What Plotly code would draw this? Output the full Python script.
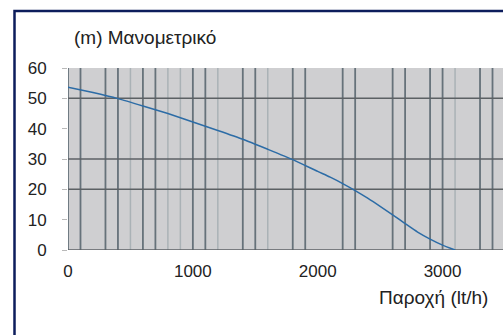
import plotly.graph_objects as go

# Data
flow = [0, 200, 400, 600, 800, 1000, 1200, 1400, 1600, 1800, 2000, 2100, 2200, 2300,
        2400, 2500, 2600, 2700, 2800, 2900, 3000, 3100]
head = [53.7, 51.9, 49.9, 47.5, 45.0, 42.2, 39.4, 36.5, 33.2, 29.8, 25.9, 24.0, 21.9, 19.6,
        17.1, 14.4, 11.6, 8.7, 5.9, 3.6, 1.6, 0.0]

x_ticks = [0, 1000, 2000, 3000]
y_ticks = [0, 10, 20, 30, 40, 50, 60]

grid_x_dark = [0, 100, 300, 400, 600, 700, 1000, 1100, 1400, 1500, 1800, 1900,
               2200, 2300, 2600, 2700, 2900, 3000, 3300, 3400]
grid_x_light = [500, 800, 900, 1200, 1600, 3100]
grid_y_dark = [0, 20, 30, 50]

y_title = "(m) Μανομετρικό"
x_title = "Παροχή (lt/h)"

W, H = 503, 335
ML, MR, MT, MB = 68, 0, 68, 85
PW, PH = W - ML - MR, H - MT - MB
X_MAX = 3484


def px_x(p):
    return (p - ML) / PW


def px_y(p):
    return (H - MB - p) / PH


FONT = "Liberation Sans, Arial, Helvetica, sans-serif"

fig = go.Figure()
fig.add_trace(go.Scatter(
    x=flow, y=head, mode="lines",
    line=dict(color="#2c6ca6", width=1.5, shape="spline", smoothing=0.5),
    hoverinfo="skip", showlegend=False,
))

for gx in grid_x_light:
    fig.add_vline(x=gx, line=dict(color="#aab2b6", width=1.5), layer="below")
for gx in grid_x_dark:
    fig.add_vline(x=gx, line=dict(color="#66727a", width=1.8), layer="below")
for gy in grid_y_dark:
    fig.add_hline(y=gy, line=dict(color="#5c6164", width=1.5), layer="below")

# navy frame
fig.add_shape(type="rect", xref="paper", yref="paper",
              x0=px_x(14.5), x1=px_x(560), y0=px_y(11), y1=px_y(400),
              line=dict(color="#0d1d5c", width=2.5), fillcolor="rgba(0,0,0,0)")

fig.add_annotation(text=y_title, xref="paper", yref="paper",
                   x=px_x(72), y=px_y(38), xanchor="left", yanchor="middle",
                   showarrow=False, font=dict(family=FONT, size=19, color="#222"))
fig.add_annotation(text=x_title, xref="paper", yref="paper",
                   x=px_x(490), y=px_y(297), xanchor="right", yanchor="middle",
                   showarrow=False, font=dict(family=FONT, size=19, color="#222"))

fig.update_layout(
    width=W, height=H,
    margin=dict(l=ML, r=MR, t=MT, b=MB),
    paper_bgcolor="white", plot_bgcolor="#cfcfd1",
    font=dict(family=FONT, size=17, color="#222"),
    xaxis=dict(range=[0, X_MAX], tickvals=x_ticks,
               showgrid=False, zeroline=False, showline=False, ticks="",
               ticklabelstandoff=9, fixedrange=True),
    yaxis=dict(range=[0, 60], tickvals=y_ticks, showgrid=False, zeroline=False,
               showline=False, ticks="outside", ticklen=5, tickcolor="#b9b9b9",
               ticklabelstandoff=12, fixedrange=True),
)

fig.write_html("out.html", config={"displayModeBar": False},
               post_script="document.body.style.margin='0';document.body.style.overflow='hidden';")
